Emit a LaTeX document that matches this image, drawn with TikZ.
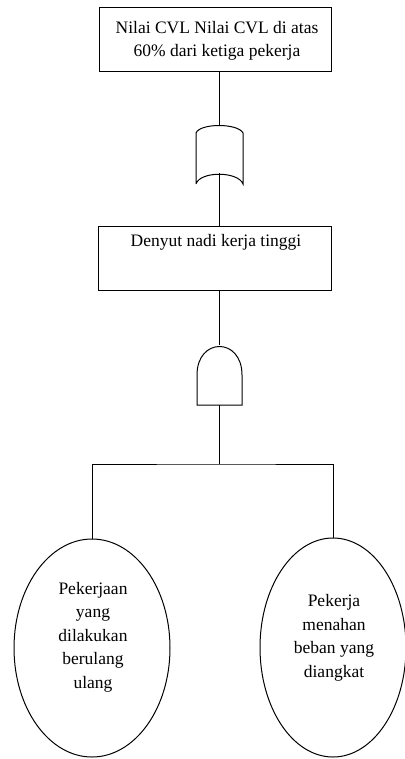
\documentclass[tikz,border=0pt]{standalone}
\usepackage{fontspec}
\setmainfont{Liberation Serif}
\usetikzlibrary{shapes.geometric}
\begin{document}
\begin{tikzpicture}[x=1pt,y=-1pt,line width=1pt,
  box/.style={draw,rectangle,inner sep=0pt},
  leaf/.style={draw,ellipse,inner sep=0pt},
  txt/.style={font=\fontsize{17.5}{23.5}\selectfont,align=center,inner sep=0pt}]
\useasboundingbox (0,0) rectangle (404,759);
% top event
\node[box,minimum width=232pt,minimum height=64pt] (top) at (215,40) {};
\node[txt] (toptxt) at (217,41) {Nilai CVL Nilai CVL di atas\\60\% dari ketiga pekerja};
% OR gate
\coordinate (orin) at (219,125);
\coordinate (orout) at (219,173);
\draw (196,184) -- (196,133) .. controls (200,123) and (238,123) .. (243,133) -- (243,184)
      .. controls (238,171) and (200,171) .. (196,184);
% middle event
\node[box,minimum width=233pt,minimum height=64pt] (mid) at (214.5,258) {};
\node[txt,anchor=north] (midtxt) at (216,234) {Denyut nadi kerja tinggi};
% AND gate
\coordinate (andin) at (219.5,345);
\coordinate (andout) at (219.5,405);
\draw (197,405) -- (197,375) .. controls (197,337) and (242,337) .. (242,375) -- (242,405) -- cycle;
% basic events
\node[leaf,minimum width=156pt,minimum height=218pt] (e1) at (92,648) {};
\node[txt] (e1txt) at (93,637) {Pekerjaan\\yang\\dilakukan\\berulang\\ulang};
\node[leaf,minimum width=146pt,minimum height=219pt] (e2) at (333,647.5) {};
\node[txt] (e2txt) at (334,638) {Pekerja\\menahan\\beban yang\\diangkat};
% connectors
\coordinate (split) at (219.5,464);
\draw (top.south -| orin) -- (orin);
\draw (orout) -- (mid.north -| orout);
\draw (mid.south -| andin) -- (andin);
\draw (andout) -- (split);
\draw (e1.north) |- (split) -| (e2.north);
\end{tikzpicture}
\end{document}
